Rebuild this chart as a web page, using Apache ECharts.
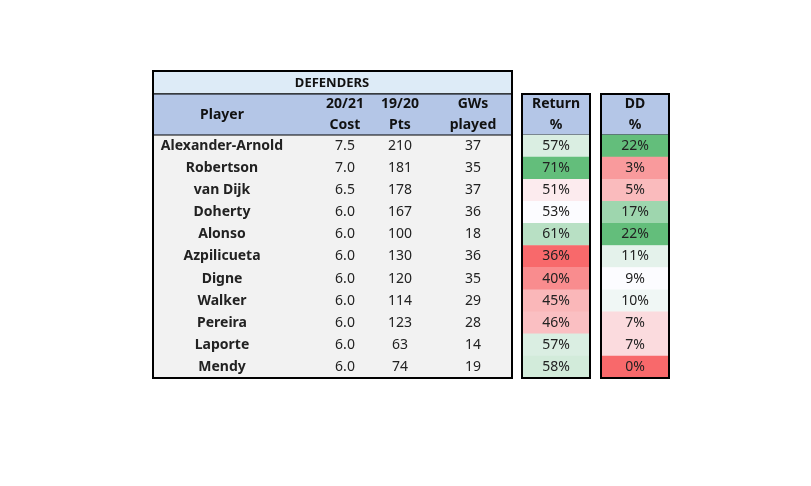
<!DOCTYPE html>
<html>
<head>
<meta charset="utf-8">
<script src="https://cdn.jsdelivr.net/npm/echarts@6/dist/echarts.min.js"></script>
<style>html,body{margin:0;padding:0;background:#fff;}#chart{width:811px;height:486px;}</style>
</head>
<body>
<div id="chart"></div>
<script>
const players = ['Alexander-Arnold', 'Robertson', 'van Dijk', 'Doherty', 'Alonso', 'Azpilicueta', 'Digne', 'Walker', 'Pereira', 'Laporte', 'Mendy'];
const cost = ['7.5', '7.0', '6.5', '6.0', '6.0', '6.0', '6.0', '6.0', '6.0', '6.0', '6.0'];
const pts = [210, 181, 178, 167, 100, 130, 120, 114, 123, 63, 74];
const gws = [37, 35, 37, 36, 18, 36, 35, 29, 28, 14, 19];
const returnPct = [57, 71, 51, 53, 61, 36, 40, 45, 46, 57, 58];
const ddPct = [22, 3, 5, 17, 22, 11, 9, 10, 7, 7, 0];

const FONT = 'Noto Sans';
const colX = [69, 192, 247, 320]; // column centres inside main table (px from left)

// Excel-style 3-colour scale, midpoint at median
function scaleColor(values) {
    const sorted = [...values].sort((a, b) => a - b);
    const min = sorted[0], max = sorted[sorted.length - 1];
    const med = sorted[Math.floor(sorted.length / 2)];
    const red = [248, 105, 107], white = [252, 252, 255], green = [99, 190, 123];
    const mix = (a, b, t) => 'rgb(' + a.map((c, i) => Math.round(c + (b[i] - c) * t)).join(',') + ')';
    return (v) => v <= med ? mix(red, white, (v - min) / (med - min || 1)) : mix(white, green, (v - med) / (max - med || 1));
}

function heatData(values) {
    const col = scaleColor(values);
    return values.map((v, i) => ({ value: [0, i, v], itemStyle: { color: col(v) } }));
}

const chart = echarts.init(document.getElementById('chart'));
const hiddenCat = (data) => ({ type: 'category', data, show: false, inverse: true });

const option = {
    animation: false,
    grid: [
        { left: 153, top: 135, width: 359, height: 243 },
        { left: 522, top: 135, width: 68, height: 243 },
        { left: 601, top: 135, width: 68, height: 243 },
    ],
    xAxis: [
        { type: 'value', min: 0, max: 359, show: false, gridIndex: 0 },
        { type: 'category', data: ['Return'], show: false, gridIndex: 1 },
        { type: 'category', data: ['DD'], show: false, gridIndex: 2 },
    ],
    yAxis: [
        Object.assign(hiddenCat(players), { gridIndex: 0 }),
        Object.assign(hiddenCat(players), { gridIndex: 1 }),
        Object.assign(hiddenCat(players), { gridIndex: 2 }),
    ],
    series: [
        {
            type: 'custom',
            xAxisIndex: 0,
            yAxisIndex: 0,
            data: players.map((p, i) => [i]),
            renderItem: (params, api) => {
                const i = api.value(0);
                const y = api.coord([0, i])[1];
                const texts = [players[i], cost[i], String(pts[i]), String(gws[i])];
                return {
                    type: 'group',
                    children: texts.map((t, c) => ({
                        type: 'text',
                        style: {
                            text: t,
                            x: api.coord([colX[c], i])[0],
                            y: y,
                            align: 'center',
                            verticalAlign: 'middle',
                            font: (c === 0 ? 'bold ' : '') + '14px "' + FONT + '"',
                            fill: '#222',
                        },
                    })),
                };
            },
            z: 5,
        },
        {
            type: 'heatmap',
            xAxisIndex: 1,
            yAxisIndex: 1,
            data: heatData(returnPct),
            label: { show: true, formatter: (p) => p.value[2] + '%', fontFamily: FONT, fontSize: 14, color: '#222' },
        },
        {
            type: 'heatmap',
            xAxisIndex: 2,
            yAxisIndex: 2,
            data: heatData(ddPct),
            label: { show: true, formatter: (p) => p.value[2] + '%', fontFamily: FONT, fontSize: 14, color: '#222' },
        },
    ],
    graphic: [
        // main table background + headers
        { type: 'rect', shape: { x: 153, y: 135, width: 359, height: 243 }, style: { fill: '#f2f2f2' }, z: 0 },
        { type: 'rect', shape: { x: 153, y: 71, width: 359, height: 23 }, style: { fill: '#ddebf7', stroke: '#000', lineWidth: 1 }, z: 1 },
        { type: 'rect', shape: { x: 153, y: 94, width: 359, height: 41 }, style: { fill: '#b4c6e7', stroke: '#000', lineWidth: 1 }, z: 1 },
        { type: 'rect', shape: { x: 522, y: 94, width: 68, height: 41 }, style: { fill: '#b4c6e7', stroke: '#000', lineWidth: 1 }, z: 1 },
        { type: 'rect', shape: { x: 601, y: 94, width: 68, height: 41 }, style: { fill: '#b4c6e7', stroke: '#000', lineWidth: 1 }, z: 1 },
        { type: 'text', x: 332, y: 83, style: { text: 'DEFENDERS', align: 'center', verticalAlign: 'middle', font: 'bold 13px "' + FONT + '"', fill: '#111' }, z: 3 },
        { type: 'text', x: 222, y: 115, style: { text: 'Player', align: 'center', verticalAlign: 'middle', font: 'bold 14px "' + FONT + '"', fill: '#111' }, z: 3 },
        { type: 'text', x: 345, y: 115, style: { text: '20/21\nCost', lineHeight: 21, align: 'center', verticalAlign: 'middle', font: 'bold 14px "' + FONT + '"', fill: '#111' }, z: 3 },
        { type: 'text', x: 400, y: 115, style: { text: '19/20\nPts', lineHeight: 21, align: 'center', verticalAlign: 'middle', font: 'bold 14px "' + FONT + '"', fill: '#111' }, z: 3 },
        { type: 'text', x: 473, y: 115, style: { text: 'GWs\nplayed', lineHeight: 21, align: 'center', verticalAlign: 'middle', font: 'bold 14px "' + FONT + '"', fill: '#111' }, z: 3 },
        { type: 'text', x: 556, y: 115, style: { text: 'Return\n%', lineHeight: 21, align: 'center', verticalAlign: 'middle', font: 'bold 14px "' + FONT + '"', fill: '#111' }, z: 3 },
        { type: 'text', x: 635, y: 115, style: { text: 'DD\n%', lineHeight: 21, align: 'center', verticalAlign: 'middle', font: 'bold 14px "' + FONT + '"', fill: '#111' }, z: 3 },
        // outer borders
        { type: 'rect', shape: { x: 153, y: 71, width: 359, height: 307 }, style: { fill: 'none', stroke: '#000', lineWidth: 2 }, z: 10 },
        { type: 'rect', shape: { x: 522, y: 94, width: 68, height: 284 }, style: { fill: 'none', stroke: '#000', lineWidth: 2 }, z: 10 },
        { type: 'rect', shape: { x: 601, y: 94, width: 68, height: 284 }, style: { fill: 'none', stroke: '#000', lineWidth: 2 }, z: 10 },
    ],
};
chart.setOption(option);
</script>
</body>
</html>
